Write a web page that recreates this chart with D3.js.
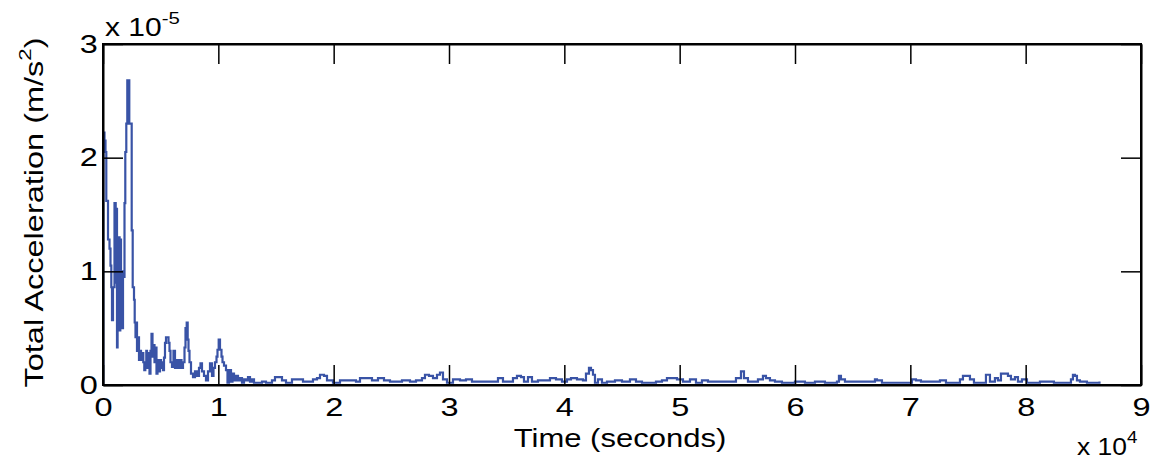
<!DOCTYPE html>
<html>
<head>
<meta charset="utf-8">
<script src="https://cdn.jsdelivr.net/npm/d3@7"></script>
<style>
  body { margin: 0; background: #fff; }
  svg { display: block; font-family: "Liberation Sans", Arial, sans-serif; }
  .axis path, .axis line { stroke: #000; }
  .axis text { font-size: 25px; fill: #000; }
</style>
</head>
<body>
<script>
// time in seconds, acceleration in units of 1e-5 m/s^2
var timeSec = [0, 26, 130, 217, 286, 390, 434, 564, 650, 720, 780, 867, 997,
  1040, 1101, 1153, 1214, 1266, 1327, 1387, 1439, 1500, 1561, 1613, 1673, 1734,
  1821, 1864, 1933, 2020, 2107, 2228, 2280, 2428, 2488, 2575, 2688, 2749, 2818,
  2887, 2948, 3035, 3121, 3208, 3295, 3407, 3494, 3581, 3667, 3754, 3815, 3945,
  4032, 4118, 4205, 4292, 4378, 4465, 4552, 4638, 4725, 4812, 4942, 5029, 5115,
  5202, 5289, 5375, 5462, 5592, 5679, 5766, 5852, 5982, 6112, 6242, 6372, 6503,
  6676, 6806, 6936, 7066, 7153, 7257, 7343, 7413, 7500, 7630, 7803, 7976, 8150,
  8323, 8453, 8583, 8757, 8930, 9104, 9277, 9450, 9580, 9710, 9841, 9927, 10031,
  10144, 10274, 10361, 10491, 10664, 10794, 10924, 11098, 11228, 11358, 11531,
  11705, 11878, 12051, 12225, 12398, 12572, 12745, 12918, 13092, 13352, 13785,
  14132, 14652, 14912, 15259, 15519, 15866, 16386, 16820, 17340, 17774, 18207,
  18554, 18814, 19161, 19421, 19941, 20548, 21242, 21935, 22282, 22802, 23322,
  23843, 24363, 24883, 25403, 25923, 26617, 27137, 27657, 27917, 28264, 28611,
  28958, 29218, 29478, 29825, 30345, 30952, 31472, 31992, 32686, 33293, 33813,
  34247, 34680, 35114, 35547, 35894, 36241, 36501, 36848, 37194, 37715, 38321,
  38755, 39275, 39795, 40229, 40576, 41096, 41616, 41876, 42136, 42310, 42483,
  42656, 42917, 43263, 43697, 44390, 44997, 45691, 46211, 46731, 47425, 47945,
  48465, 48899, 49332, 49766, 50286, 50893, 51413, 51933, 52454, 53060, 53667,
  54361, 54881, 55315, 55575, 55921, 56355, 56789, 57222, 57482, 57829, 58262,
  58869, 59390, 59996, 60863, 61730, 62597, 63291, 63638, 63811, 63985, 64331,
  64938, 65632, 66325, 66932, 67106, 67539, 68233, 69100, 69707, 70140, 70487,
  70921, 71441, 72134, 72568, 73088, 73608, 74042, 74302, 74562, 74909, 75169,
  75516, 76036, 76383, 76556, 76730, 76903, 77336, 77597, 77857, 78203, 78464,
  78724, 79070, 79331, 79677, 80111, 80631, 81238, 81845, 82452, 83145, 83666,
  83926, 84099, 84272, 84446, 84706, 85313, 85833, 86400];

var accel = [0, 2.22, 2.15, 2.05, 1.62, 1.62, 1.28, 1.2, 1.05, 0.86, 0.57, 0.86, 1.6,
  1.6, 0.9, 1.55, 0.33, 1.1, 0.6, 1.3, 0.48, 1.28, 0.85, 1.0, 0.5, 1.0,
  0.95, 1.6, 2.05, 2.3, 2.68, 2.68, 2.3, 2.3, 1.36, 0.86, 0.75, 0.55, 0.42,
  0.55, 0.3, 0.42, 0.22, 0.3, 0.22, 0.28, 0.2, 0.13, 0.2, 0.3, 0.15, 0.28,
  0.1, 0.3, 0.45, 0.25, 0.35, 0.2, 0.33, 0.1, 0.22, 0.12, 0.22, 0.15, 0.2,
  0.13, 0.24, 0.37, 0.42, 0.42, 0.37, 0.3, 0.2, 0.16, 0.3, 0.15, 0.22, 0.15,
  0.22, 0.15, 0.2, 0.33, 0.5, 0.55, 0.4, 0.3, 0.2, 0.1, 0.07, 0.12, 0.08,
  0.15, 0.19, 0.12, 0.08, 0.04, 0.12, 0.19, 0.08, 0.15, 0.2, 0.25, 0.31, 0.4,
  0.31, 0.25, 0.2, 0.17, 0.13, 0.02, 0.13, 0.03, 0.1, 0.04, 0.08,
  0.04, 0.06, 0.02, 0.05, 0.04, 0.07, 0.03, 0.05, 0.02, 0.02, 0.03,
  0.02, 0.04, 0.07, 0.07, 0.04, 0.02, 0.05, 0.05, 0.03, 0.03, 0.05,
  0.06, 0.09, 0.08, 0.04, 0.02, 0.04, 0.04, 0.03, 0.06, 0.06, 0.04,
  0.06, 0.04, 0.03, 0.03, 0.04, 0.03, 0.04, 0.06, 0.09, 0.08, 0.06,
  0.09, 0.11, 0.05, 0.02, 0.05, 0.04, 0.05, 0.03, 0.03, 0.03, 0.03,
  0.06, 0.03, 0.03, 0.06, 0.08, 0.07, 0.03, 0.07, 0.03, 0.04, 0.04,
  0.06, 0.05, 0.03, 0.05, 0.06, 0.05, 0.04, 0.1, 0.15, 0.13, 0.09,
  0.02, 0.05, 0.02, 0.03, 0.04, 0.03, 0.05, 0.03, 0.02, 0.02, 0.03,
  0.04, 0.06, 0.06, 0.05, 0.03, 0.05, 0.02, 0.04, 0.03, 0.03, 0.03,
  0.03, 0.06, 0.12, 0.06, 0.03, 0.03, 0.05, 0.08, 0.06, 0.04, 0.03,
  0.02, 0.02, 0.03, 0.02, 0.03, 0.02, 0.02, 0.03, 0.08, 0.05, 0.03,
  0.03, 0.03, 0.03, 0.05, 0.04, 0.02, 0.02, 0.02, 0.02, 0.05, 0.04,
  0.03, 0.03, 0.03, 0.04, 0.02, 0.02, 0.02, 0.05, 0.08, 0.08, 0.05,
  0.02, 0.02, 0.02, 0.09, 0.09, 0.03, 0.06, 0.04, 0.1, 0.1, 0.08,
  0.05, 0.07, 0.03, 0.05, 0.02, 0.02, 0.03, 0.03, 0.02, 0.02, 0.02,
  0.05, 0.09, 0.08, 0.04, 0.03, 0.02, 0.02, 0.03];

var xTicks = [0, 1, 2, 3, 4, 5, 6, 7, 8, 9];   // x 10^4 s
var yTicks = [0, 1, 2, 3];                      // x 10^-5 m/s^2

var W = 1150, H = 462,
    marginLeft = 103, marginTop = 44,
    plotW = 1038, plotH = 341,
    tickLen = 20,
    stretch = 1.3;   // the original lettering is wider than Arial

var data = timeSec.map(function(t, i) { return { t: t / 1e4, a: accel[i] }; });

var svg = d3.select("body").append("svg")
    .attr("width", W)
    .attr("height", H);

var x = d3.scaleLinear().domain([0, 9]).range([0, plotW]);
var y = d3.scaleLinear().domain([0, 3]).range([plotH, 0]);

var g = svg.append("g").attr("transform", "translate(" + marginLeft + "," + marginTop + ")");

// data line
var line = d3.line()
    .x(function(d) { return x(d.t); })
    .y(function(d) { return y(d.a); })
    .curve(d3.curveStepAfter);

g.append("path")
    .datum(data)
    .attr("fill", "none")
    .attr("stroke", "#3953a6")
    .attr("stroke-width", 2.2)
    .attr("d", line);

// axes, ticks pointing inward on all four sides
var bottom = g.append("g").attr("class", "axis")
    .attr("transform", "translate(0," + plotH + ")")
    .call(d3.axisBottom(x).tickValues(xTicks).tickFormat(d3.format("d"))
      .tickSizeInner(-tickLen).tickSizeOuter(0).tickPadding(13));

var leftAx = g.append("g").attr("class", "axis")
    .call(d3.axisLeft(y).tickValues(yTicks).tickFormat(d3.format("d"))
      .tickSizeInner(-tickLen).tickSizeOuter(0).tickPadding(4));

var topAx = g.append("g").attr("class", "axis")
    .call(d3.axisTop(x).tickValues(xTicks).tickFormat("")
      .tickSizeInner(-tickLen).tickSizeOuter(0));

var rightAx = g.append("g").attr("class", "axis")
    .attr("transform", "translate(" + plotW + ",0)")
    .call(d3.axisRight(y).tickValues(yTicks).tickFormat("")
      .tickSizeInner(-tickLen).tickSizeOuter(0));

g.selectAll(".axis line").attr("stroke-width", 1.5);
g.selectAll(".axis path").attr("stroke-width", 2);
bottom.selectAll("text").attr("dy", "0.71em");
bottom.selectAll("text").attr("transform", "scale(" + stretch + ",1)");
leftAx.selectAll("text").attr("transform", "scale(" + stretch + ",1)");

// frame
g.append("rect")
    .attr("width", plotW)
    .attr("height", plotH)
    .attr("fill", "none")
    .attr("stroke", "#000")
    .attr("stroke-width", 2);

// exponent labels
var expTop = svg.append("text")
    .attr("transform", "translate(" + (marginLeft + 2) + ",36) scale(1.2,1)")
    .attr("font-size", 25);
expTop.append("tspan").text("x 10");
expTop.append("tspan").attr("font-size", 17).attr("dy", -12).text("-5");

var expBottom = svg.append("text")
    .attr("transform", "translate(1077,455) scale(1.1,1)")
    .attr("font-size", 24);
expBottom.append("tspan").text("x 10");
expBottom.append("tspan").attr("font-size", 17).attr("dy", -12).text("4");

// axis titles
svg.append("text")
    .attr("transform", "translate(" + (marginLeft + plotW / 2 - 2) + ",447) scale(1.24,1)")
    .attr("text-anchor", "middle")
    .attr("font-size", 25)
    .text("Time (seconds)");

var yTitle = svg.append("text")
    .attr("transform", "translate(43," + (marginTop + plotH / 2 - 2) + ") rotate(-90) scale(1.3,1)")
    .attr("text-anchor", "middle")
    .attr("font-size", 25);
yTitle.append("tspan").text("Total Acceleration (m/s");
yTitle.append("tspan").attr("font-size", 17).attr("dy", -12).text("2");
yTitle.append("tspan").attr("dy", 12).text(")");
</script>
</body>
</html>
